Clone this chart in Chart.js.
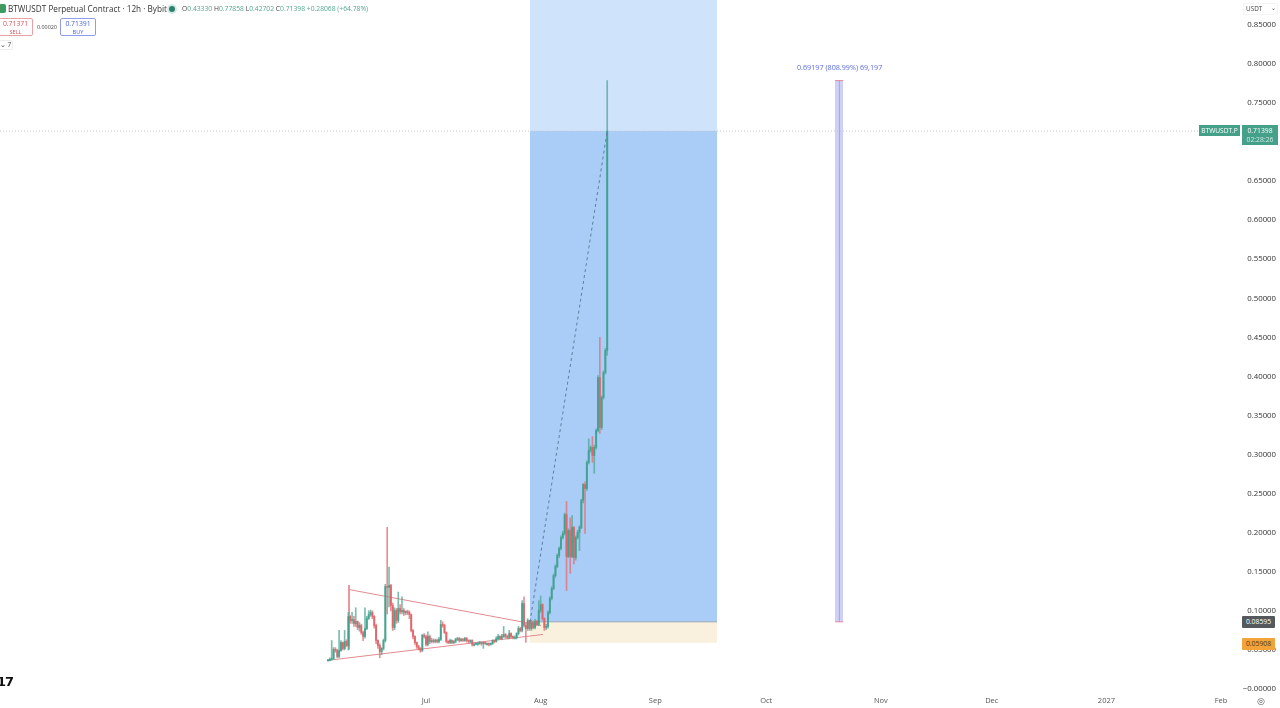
<!DOCTYPE html>
<html><head><meta charset="utf-8">
<style>
html,body{margin:0;padding:0;background:#fff;width:1280px;height:708px;overflow:hidden;font-family:"Open Sans","Noto Sans",sans-serif}
canvas{position:absolute;left:0;top:0}
.t{position:absolute;white-space:nowrap;line-height:1}
.box{position:absolute;box-sizing:border-box;text-align:center;white-space:nowrap}
</style>
<script src="https://cdn.jsdelivr.net/npm/chart.js@4"></script>
</head><body>
<canvas id="c" width="1280" height="708"></canvas>

<div class="box" style="left:-1px;top:4px;width:7px;height:9px;background:#3f9a5f;border-radius:2px"></div>
<div class="t" style="left:8px;top:5px;font-size:8.2px;color:#333">BTWUSDT Perpetual Contract · 12h · Bybit</div>
<div class="box" style="left:169px;top:6px;width:6px;height:6px;border-radius:50%;background:#2f7f6c;box-shadow:0 0 0 2px #d5ece6"></div>
<div class="t" style="left:182px;top:6px;font-size:6.75px;color:#53a690"><span style="color:#444">O</span>0.43330 <span style="color:#444">H</span>0.77858 <span style="color:#444">L</span>0.42702 <span style="color:#444">C</span>0.71398 +0.28068 (+64.78%)</div>
<div class="box" style="left:-2px;top:18px;width:35px;height:18px;border:1px solid #eaa0a4;border-radius:2px;color:#d9535a;font-size:6.8px;line-height:8px;padding-top:1px">0.71371<br><span style="font-size:5.6px">SELL</span></div>
<div class="t" style="left:37px;top:25px;font-size:5.4px;color:#444">0.00020</div>
<div class="box" style="left:60px;top:18px;width:36px;height:18px;border:1px solid #8f9cf0;border-radius:2px;color:#4a63d8;font-size:6.8px;line-height:8px;padding-top:1px">0.71391<br><span style="font-size:5.6px">BUY</span></div>
<div class="box" style="left:-2px;top:40px;width:15px;height:10px;border:1px solid #eee;border-radius:2px;font-size:6.5px;line-height:8px;color:#444">⌄ 7</div>

<div class="t" style="left:797px;top:64px;font-size:7.2px;color:#5a6be0">0.69197 (808.99%) 69,197</div>

<div class="box" style="left:1243px;top:3px;width:35px;height:12px;border:1px solid #f4f4f4;font-size:6.4px;line-height:10px;color:#444;text-align:left;padding-left:2px">USDT<span style="position:absolute;right:1px;top:-1px">⌄</span></div>
<div class="box" style="left:1199px;top:125px;width:41px;height:11px;background:#45a08a;color:#fff;font-size:6.6px;line-height:11px">BTWUSDT.P</div>
<div class="box" style="left:1242px;top:125px;width:36px;height:20px;background:#45a08a;color:#fff;font-size:6.8px;line-height:9px;padding-top:1px">0.71398<br><span style="color:#cfe9e2">02:28:26</span></div>
<div class="box" style="left:1242px;top:616px;width:33px;height:12px;background:#55585c;color:#fff;font-size:6.8px;line-height:12px;border-radius:1px">0.08595</div>
<div class="box" style="left:1242px;top:638px;width:33px;height:12px;background:#f2a33a;color:#4a3a1a;font-size:6.8px;line-height:12px;border-radius:1px">0.05908</div>
<div class="t" style="left:-3px;top:675px;font-size:13px;font-weight:900;letter-spacing:-1px;color:#111;font-family:'DejaVu Sans'">17</div>
<div class="t" style="left:1257px;top:697px;font-size:9px;color:#555;font-family:'DejaVu Sans'">◎</div>

<script>
const monthDays = [0,31,62,92,123,153,184,215];
const monthLabels = ['Jul','Aug','Sep','Oct','Nov','Dec','2027','Feb'];
const priceTicks = [0.85,0.8,0.75,0.7,0.65,0.6,0.55,0.5,0.45,0.4,0.35,0.3,0.25,0.2,0.15,0.1,0.05,0];
const firstCandleDay = -26.5;

const opens = [
.036,.0365,.0378,.039,.0506,.0493,.0416,.0493,.0595,.0518,
.0608,.0557,.0928,.0877,.0889,.0838,.0864,.0787,.0813,.0723,
.0672,.0774,.0902,.0953,.0979,.0928,.0813,.0621,.0557,.048,
.0518,.0621,.1312,.13,.1325,.1069,.0787,.1005,.0877,.103,
.0992,.1005,.0979,.0992,.0979,.0953,.0749,.0672,.0595,.0544,
.0518,.0493,.0685,.0672,.057,.0672,.0608,.0621,.0608,.0621,
.0608,.0634,.0825,.0813,.0723,.0608,.0595,.0621,.0595,.0608,
.0634,.0646,.0621,.0634,.0621,.0646,.0621,.0608,.0621,.057,
.057,.0582,.0582,.0595,.0582,.0595,.0582,.0582,.057,.0582,
.0621,.0608,.0646,.0672,.0646,.0672,.0698,.0672,.0659,.071,
.0672,.0659,.0659,.071,.0774,.0749,.1094,.0813,.0774,.0877,
.0774,.0851,.0787,.0864,.0825,.1005,.1081,.0902,.0787,.08,
.0979,.1158,.1287,.1452,.1568,.1708,.1798,.1939,.199,.2233,
.1695,.2028,.1695,.2067,.1683,.1939,.2003,.2067,.2412,.2617,
.2566,.2899,.3052,.3091,.2988,.3091,.3308,.3986,.3346,.373,
.405,.4333];
const closes = [
.0365,.0378,.039,.0506,.0493,.0416,.0493,.0595,.0518,.0608,
.0557,.0928,.0877,.0889,.0838,.0864,.0787,.0813,.0723,.0672,
.0774,.0902,.0953,.0979,.0928,.0813,.0621,.0557,.048,.0518,
.0621,.1312,.13,.1325,.1069,.0787,.1005,.0877,.103,.0992,
.1005,.0979,.0992,.0979,.0953,.0749,.0672,.0595,.0544,.0518,
.0493,.0685,.0672,.057,.0672,.0608,.0621,.0608,.0621,.0608,
.0634,.0825,.0813,.0723,.0608,.0595,.0621,.0595,.0608,.0634,
.0646,.0621,.0634,.0621,.0646,.0621,.0608,.0621,.057,.057,
.0582,.0582,.0595,.0582,.0595,.0582,.0582,.057,.0582,.0621,
.0608,.0646,.0672,.0646,.0672,.0698,.0672,.0659,.071,.0672,
.0659,.0659,.071,.0774,.0749,.1094,.0813,.0774,.0877,.0774,
.0851,.0787,.0864,.0825,.1005,.1081,.0902,.0787,.08,.0979,
.1158,.1287,.1452,.1568,.1708,.1798,.1939,.199,.2233,.1695,
.2028,.1695,.2067,.1683,.1939,.2003,.2067,.2412,.2617,.2566,
.2899,.3052,.3091,.2988,.3091,.3308,.3986,.3346,.373,.405,
.4333,.71398];
const highs = [
.038,.040,.062,.053,.053,.051,.075,.062,.060,.075,
.063,.098,.094,.098,.093,.104,.087,.085,.083,.074,
.104,.093,.100,.101,.100,.094,.083,.063,.058,.053,
.064,.134,.207,.156,.134,.110,.104,.103,.124,.108,
.118,.103,.100,.101,.100,.096,.076,.068,.060,.056,
.053,.070,.071,.069,.073,.069,.065,.064,.064,.064,
.066,.088,.086,.083,.073,.062,.064,.063,.062,.065,
.066,.066,.065,.065,.066,.066,.063,.063,.063,.059,
.059,.060,.061,.060,.060,.060,.059,.059,.059,.063,
.063,.067,.070,.068,.070,.080,.071,.069,.075,.072,
.068,.068,.072,.080,.079,.113,.118,.084,.090,.088,
.088,.087,.089,.088,.113,.119,.109,.091,.083,.100,
.118,.131,.147,.159,.173,.182,.196,.202,.225,.240,
.205,.219,.222,.208,.196,.203,.209,.243,.263,.265,
.292,.320,.311,.323,.312,.333,.401,.450,.375,.407,
.436,.77858];
const lows = [
.036,.036,.037,.038,.047,.040,.040,.048,.050,.050,
.054,.050,.084,.084,.080,.080,.076,.074,.070,.062,
.065,.076,.089,.093,.090,.078,.058,.052,.040,.044,
.050,.060,.096,.105,.100,.075,.076,.084,.085,.096,
.096,.094,.095,.095,.090,.073,.064,.057,.052,.050,
.047,.048,.065,.055,.055,.058,.059,.059,.059,.059,
.059,.062,.079,.071,.059,.058,.058,.058,.058,.059,
.062,.060,.061,.061,.061,.060,.059,.059,.055,.055,
.057,.056,.057,.056,.052,.057,.056,.055,.056,.057,
.059,.060,.063,.063,.063,.066,.065,.064,.064,.065,
.064,.064,.064,.069,.073,.073,.079,.0595,.075,.075,
.075,.077,.077,.081,.081,.098,.088,.075,.076,.078,
.096,.114,.127,.143,.155,.168,.178,.192,.197,.126,
.168,.148,.168,.160,.165,.192,.177,.205,.238,.199,
.254,.288,.303,.290,.276,.307,.329,.327,.332,.371,
.403,.42702];

const lastPrice = 0.71398, entryPrice = 0.08595, stopPrice = 0.05908, topPrice = 0.77858;
const regionDays = [28.12,78.69];
const measureDays = [110.6,112.84];
const measureCenter = [111.79,111.79];
const upperTrendDays = [-20.82,31.1], upperTrendValues = [0.1273,0.0813];
const lowerTrendDays = [-26.77,31.64], lowerTrendValues = [0.0365,0.0698];
const trendPostDays = [-20.82,-20.82], trendPostValues = [0.133,0.0506];
const pathDays = [28.12,49], pathValues = [0.086,0.71398];

const yMin = -0.00512, yMax = 0.8817;
const xMin = -115.2, xMax = 220.12;
const UP = 'rgba(60,160,140,.85)', DOWN = 'rgba(225,95,100,.85)', TREND = '#e38a90';

const candleX = opens.map((_, i) => firstCandleDay + i * 0.5);
const candleColor = opens.map((o, i) => closes[i] >= o ? UP : DOWN);
const wickColor = opens.map((o, i) => closes[i] >= o ? 'rgba(80,165,148,.75)' : 'rgba(228,115,120,.8)');

const pair = (xs, ys) => xs.map((x, i) => ({x, y: ys[i]}));
const band = (xs, top, bottom, color, order) => ({
  type:'line', data: xs.map(x => ({x, y: top})), fill:{value: bottom},
  backgroundColor: color, borderWidth:0, pointRadius:0, tension:0, order
});
const stroke = (xs, ys, color, order, dash) => ({
  type:'line', data: pair(xs, ys), borderColor: color, borderWidth:1,
  borderDash: dash || [], pointRadius:0, fill:false, tension:0, order
});

new Chart(document.getElementById('c'), {
  data: { datasets: [
    band(regionDays, yMax, lastPrice, '#cfe3fa', 20),
    band(regionDays, lastPrice, entryPrice, '#a9cdf6', 20),
    band(regionDays, entryPrice, stopPrice, '#faf0de', 20),
    band(measureDays, topPrice, entryPrice, '#cdd1f8', 19),
    stroke(regionDays, [entryPrice, entryPrice], '#9aa6b2', 15),
    stroke([xMin, xMax], [lastPrice, lastPrice], '#c5c8cc', 15, [1,2]),
    stroke(measureCenter, [entryPrice, topPrice], 'rgba(229,120,140,.7)', 14),
    stroke(measureDays, [topPrice, topPrice], 'rgba(229,120,140,.8)', 14),
    stroke(measureDays, [entryPrice, entryPrice], 'rgba(229,120,140,.8)', 14),
    stroke(upperTrendDays, upperTrendValues, TREND, 6),
    stroke(lowerTrendDays, lowerTrendValues, TREND, 6),
    stroke(trendPostDays, trendPostValues, TREND, 6),
    stroke(pathDays, pathValues, '#5f7f9f', 3, [3,3]),
    { type:'bar', grouped:false, order:5, barThickness:1,
      data: candleX.map((x, i) => ({x, y:[lows[i], highs[i]]})),
      backgroundColor: wickColor, borderWidth:0 },
    { type:'bar', grouped:false, order:4, barThickness:1.3, minBarLength:1,
      data: candleX.map((x, i) => ({x, y:[opens[i], closes[i]]})),
      backgroundColor: candleColor, borderWidth:0 }
  ]},
  options: {
    responsive:false, animation:false, devicePixelRatio:1,
    layout:{ padding:{left:0,top:0,bottom:0,right:4} },
    plugins:{ legend:{display:false}, tooltip:{enabled:false} },
    scales:{
      x:{ type:'linear', min:xMin, max:xMax, offset:false,
        grid:{display:false, drawTicks:false}, border:{display:false},
        afterFit: s => { s.height = 15; s.paddingLeft = 0; s.paddingRight = 0; },
        afterBuildTicks: s => { s.ticks = monthDays.map(value => ({value})); },
        ticks:{ autoSkip:false, maxRotation:0, padding:3, color:'#555',
          font:{size:7.5, family:'"Open Sans"'},
          callback: v => monthLabels[monthDays.indexOf(v)] }
      },
      y:{ type:'linear', position:'right', min:yMin, max:yMax,
        grid:{display:false, drawTicks:false}, border:{display:false},
        afterFit: s => { s.width = 36; s.paddingTop = 0; s.paddingBottom = 0; },
        afterBuildTicks: s => { s.ticks = priceTicks.map(value => ({value})); },
        ticks:{ autoSkip:false, crossAlign:'far', padding:0, color:'#333',
          font:{size:7.8, family:'"Open Sans"'},
          callback: v => v === 0 ? '\u22120.00000' : v.toFixed(5) }
      }
    }
  }
});
</script>
</body></html>
